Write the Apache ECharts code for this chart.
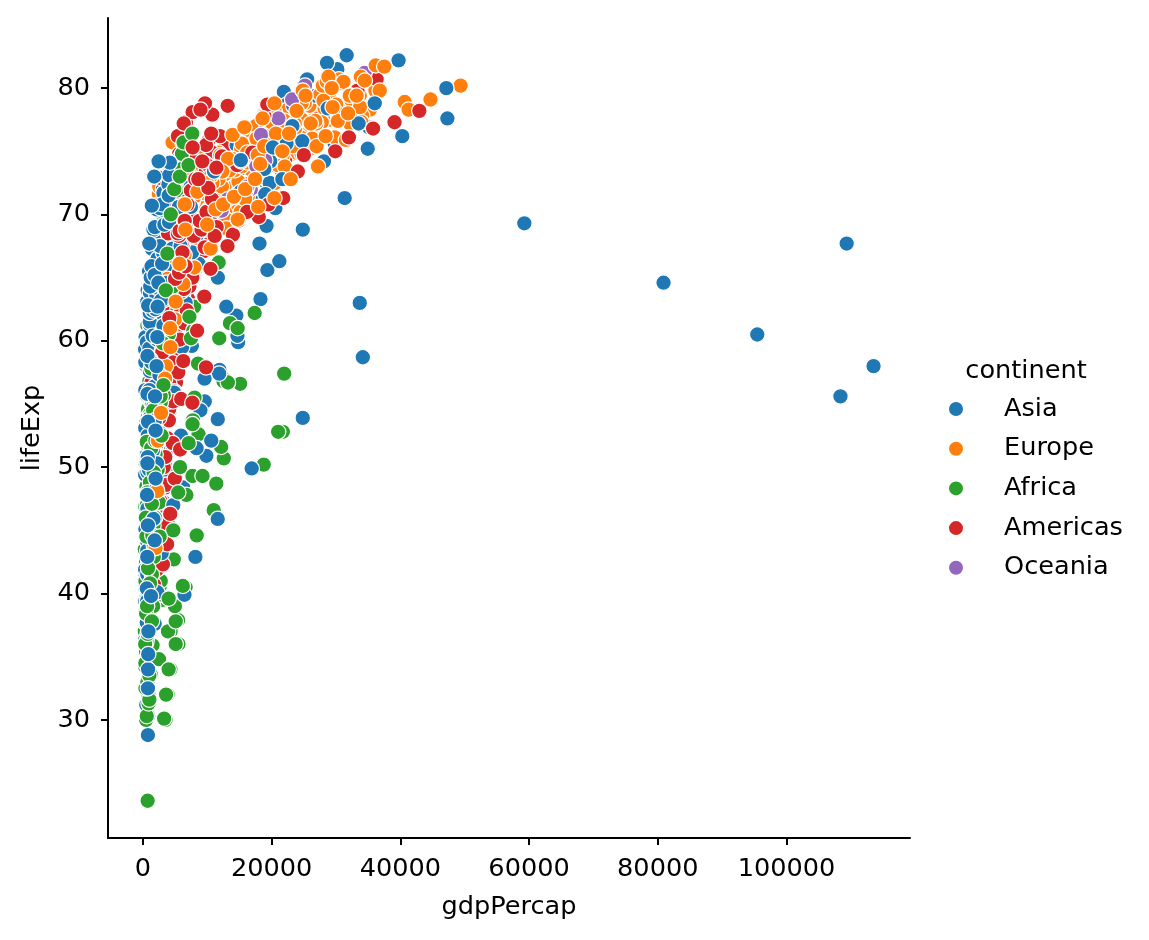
<!DOCTYPE html>
<html>
<head>
<meta charset="utf-8">
<title>gdpPercap vs lifeExp</title>
<script src="https://cdn.jsdelivr.net/npm/echarts@6/dist/echarts.min.js"></script>
<style>
  html, body { margin: 0; padding: 0; background: #fff; }
  #chart { width: 1149px; height: 940px; }
</style>
</head>
<body>
<div id="chart"></div>
<script>
// 数据: [gdpPercap, lifeExp], 从图上估读, 每 12 个点一组(一个国家)
const continents = ['Asia', 'Europe', 'Africa', 'Americas', 'Oceania'];
const colors = ['#1f77b4', '#ff7f0e', '#2ca02c', '#d62728', '#9467bd'];

const xTicks = [0, 20000, 40000, 60000, 80000, 100000];
const xTickLabels = ['0', '20000', '40000', '60000', '80000', '100000'];
const yTicks = [30, 40, 50, 60, 70, 80];
const yTickLabels = ['30', '40', '50', '60', '70', '80'];

const asia = [
  [779,28.8],[821,30.3],[853,32.0],[836,34.0],[740,36.1],[786,38.4],[978,39.9],[852,40.8],[649,41.7],[635,41.8],[727,42.1],[975,43.8],
  [9867,50.9],[11636,53.8],[12753,56.9],[14805,59.9],[18269,63.3],[19340,65.6],[19211,69.1],[18525,70.8],[19036,72.6],[20292,73.9],[23404,74.8],[29796,75.6],
  [684,37.5],[662,39.3],[686,41.2],[721,43.5],[630,45.3],[660,46.9],[677,50.0],[752,52.8],[838,56.0],[973,59.4],[1136,62.0],[1391,64.1],
  [368,39.4],[434,41.4],[497,43.4],[523,45.4],[422,40.3],[525,31.2],[624,51.0],[684,53.9],[682,55.8],[734,56.5],[896,56.8],[1714,59.7],
  [400,44.0],[576,50.5],[488,44.5],[613,58.4],[677,63.1],[741,64.0],[962,65.5],[1379,67.3],[1656,68.7],[2289,70.4],[3119,72.0],[4959,73.0],
  [3054,61.0],[3629,64.8],[4693,67.7],[6198,70.0],[8316,72.0],[11186,73.6],[14561,75.5],[20038,76.2],[24758,77.6],[28378,80.0],[30209,81.5],[39725,82.2],
  [547,37.4],[590,40.2],[658,43.6],[701,47.2],[725,50.7],[813,54.2],[856,56.6],[977,58.6],[1164,60.2],[1459,61.8],[1747,62.9],[2452,64.7],
  [750,37.5],[859,39.9],[849,42.5],[762,46.0],[1111,49.2],[1383,52.7],[1517,56.2],[1748,60.1],[2383,62.7],[3119,66.0],[2874,68.6],[3541,70.7],
  [3035,44.9],[3290,47.2],[4187,49.3],[5907,52.5],[9614,55.2],[11889,57.7],[7608,59.6],[6642,63.0],[7236,65.7],[8264,68.0],[9241,69.5],[11606,71.0],
  [4130,45.3],[6229,48.4],[8342,51.5],[8931,54.5],[9576,57.0],[14688,60.4],[14517,62.0],[11644,65.0],[3746,59.5],[3076,58.8],[4391,57.0],[4471,59.5],
  [4087,65.4],[5386,67.8],[7106,69.4],[8394,70.8],[12787,71.6],[13307,73.1],[15367,74.5],[17122,75.6],[18051,76.9],[20897,78.3],[21906,79.7],[25523,80.7],
  [3217,63.0],[4318,65.5],[6577,68.7],[9848,71.4],[14779,73.4],[16610,75.4],[19384,77.1],[22376,78.7],[26825,79.4],[28817,80.7],[28605,82.0],[31656,82.6],
  [1547,43.2],[1886,45.7],[2348,48.1],[2742,51.6],[2110,56.5],[2852,61.1],[4161,63.7],[4449,65.9],[3431,68.0],[3645,69.8],[3845,71.3],[4519,72.5],
  [1031,47.5],[1488,52.7],[1537,55.3],[2029,57.7],[3031,62.6],[4657,64.8],[5623,67.1],[8533,69.8],[12104,72.2],[15994,74.6],[19234,77.0],[23348,78.6],
  [108382,55.6],[113523,58.0],[95458,60.5],[80895,64.6],[109348,67.7],[59265,69.3],[31354,71.3],[28118,74.2],[34933,75.2],[40301,76.2],[35110,76.9],[47307,77.6],
  [4834,55.9],[6090,59.5],[5715,62.1],[6006,63.9],[7486,65.4],[8659,66.1],[7641,67.0],[5377,67.9],[6891,69.3],[8755,70.3],[9313,71.0],[10461,72.0],
  [1831,48.5],[1810,52.1],[2036,55.7],[2278,59.4],[2849,63.0],[3828,65.3],[4920,68.0],[5249,69.5],[7278,70.7],[10132,71.9],[10207,73.0],[12452,74.2],
  [787,42.2],[912,45.2],[1056,48.3],[1226,51.3],[1421,53.8],[1648,55.5],[1842,57.5],[2155,60.2],[1784,61.3],[1902,63.6],[2140,65.0],[3096,66.8],
  [331,36.3],[350,41.9],[388,45.1],[349,49.4],[357,53.1],[371,56.1],[424,58.1],[385,58.3],[347,59.3],[415,60.3],[611,59.9],[944,62.1],
  [546,36.2],[598,37.7],[652,39.4],[677,41.5],[674,44.1],[695,46.7],[718,49.6],[776,52.5],[897,55.7],[1011,59.4],[1057,61.3],[1091,63.8],
  [1828,37.6],[2243,40.1],[2924,43.2],[4721,47.0],[10618,52.1],[11848,57.4],[12955,62.7],[18115,67.7],[18617,71.2],[19702,72.5],[19775,74.2],[22316,75.6],
  [685,43.4],[747,45.6],[803,47.7],[942,49.8],[1050,51.9],[1176,54.0],[1443,56.2],[1705,58.2],[1972,60.8],[2049,61.8],[2093,63.6],[2606,65.5],
  [1273,47.8],[1548,51.3],[1650,54.8],[1814,56.4],[1989,58.1],[2189,60.1],[2456,62.1],[2190,64.2],[2280,66.5],[2537,68.6],[2651,70.3],[3190,71.7],
  [6460,39.9],[8157,42.9],[11627,45.9],[16904,49.9],[24837,53.9],[34168,58.7],[33693,63.0],[21199,66.3],[24842,68.8],[20586,70.5],[19015,71.6],[21655,72.8],
  [2315,60.4],[2843,63.2],[3675,65.8],[4977,67.9],[8597,69.5],[11210,70.8],[15169,71.8],[18862,73.6],[24769,75.8],[33519,77.2],[36023,78.8],[47143,80.0],
  [1084,57.6],[1073,61.5],[1074,62.2],[1136,64.3],[1213,65.0],[1349,65.9],[1648,68.8],[1877,69.0],[2154,70.4],[2665,70.5],[3015,70.8],[3970,72.4],
  [1643,45.9],[2117,48.3],[2193,50.3],[1882,53.7],[2571,57.3],[3195,61.2],[3761,64.6],[3116,67.0],[3341,69.2],[4014,71.5],[4090,73.1],[4185,74.1],
  [1207,58.5],[1508,62.4],[1823,65.2],[2644,67.5],[4063,69.4],[5597,70.6],[7426,72.2],[11054,73.4],[15216,74.3],[20207,75.3],[23235,77.0],[28718,78.4],
  [757,50.8],[793,53.6],[1002,56.1],[1296,58.3],[1524,60.4],[1962,62.5],[2393,64.6],[2982,66.1],[4617,67.3],[5853,67.5],[5913,68.6],[7458,70.6],
  [605,40.4],[676,42.9],[772,45.4],[637,47.8],[700,50.3],[714,55.8],[707,58.8],[821,62.8],[989,67.7],[1386,70.7],[1764,73.0],[2442,74.2],
  [782,32.5],[804,34.0],[826,35.2],[862,37.0],[1265,39.8],[1830,44.2],[1977,49.1],[1972,52.9],[1879,55.6],[2117,58.0],[2235,60.3],[2281,62.7]
];

const europe = [
  [1601,55.2],[1942,59.3],[2313,64.8],[2760,66.2],[3313,67.7],[3533,68.9],[3631,70.4],[3739,72.0],[2497,71.6],[3193,73.0],[4604,75.7],[5937,76.4],
  [6137,66.8],[8843,67.5],[10751,69.5],[12835,70.1],[16662,70.6],[19749,72.2],[21597,73.2],[23688,74.9],[27042,76.0],[29096,77.5],[32418,79.0],[36126,79.8],
  [8343,68.0],[9715,69.2],[10991,70.3],[13149,70.9],[16672,71.4],[19118,72.8],[20979,73.9],[22526,75.4],[25576,76.5],[27561,77.5],[30486,78.3],[33693,79.4],
  [974,53.8],[1354,58.5],[1710,61.9],[2172,64.8],[2860,67.5],[3528,69.9],[4127,70.7],[4314,71.1],[2547,72.2],[4766,73.2],[6019,74.3],[7446,74.9],
  [2444,59.6],[3009,66.6],[4255,69.5],[5578,70.4],[6597,70.9],[7612,70.8],[8224,71.1],[8240,71.3],[6303,71.2],[5970,70.3],[7697,72.1],[10681,73.0],
  [6876,66.9],[8256,69.0],[10137,69.9],[11399,70.4],[13108,70.3],[14800,70.7],[15377,71.0],[16310,71.6],[14297,72.4],[16049,74.0],[17596,75.5],[22833,76.5],
  [9692,70.8],[11100,71.8],[13583,72.4],[15937,73.0],[18866,73.5],[20423,74.7],[21688,74.6],[25116,74.8],[26407,75.3],[29804,76.1],[32167,77.2],[35278,78.3],
  [6425,66.6],[7545,67.5],[9372,68.8],[10921,69.8],[14359,70.9],[15605,72.5],[18533,74.6],[21141,74.8],[20647,75.7],[23724,77.1],[28204,78.4],[33207,79.3],
  [7030,67.4],[8663,68.9],[10560,70.5],[12999,71.6],[16107,72.4],[18293,73.8],[20294,74.9],[22066,76.3],[24704,77.5],[25890,78.6],[28926,79.6],[30470,80.7],
  [7144,67.5],[10188,69.1],[12902,70.3],[14745,70.8],[18016,71.0],[20513,72.5],[22032,73.8],[24639,74.8],[26505,76.1],[27789,77.3],[30036,78.7],[32170,79.4],
  [3531,65.9],[4916,67.9],[6017,69.5],[8513,71.0],[12725,72.3],[14196,73.7],[15268,75.2],[16121,76.7],[17541,77.0],[18748,77.9],[22514,78.3],[27538,79.5],
  [5264,64.0],[6040,66.4],[7550,68.0],[9326,69.5],[10168,69.8],[11674,70.0],[12546,69.4],[12986,69.6],[10536,69.2],[11712,71.0],[14843,72.6],[18009,73.3],
  [7268,72.5],[9245,73.5],[10350,73.7],[13320,73.7],[15798,74.5],[19655,76.1],[23270,76.9],[26923,77.2],[25144,78.8],[28061,79.0],[31163,80.5],[36181,81.8],
  [5211,66.9],[5599,68.9],[6632,70.3],[7656,71.1],[9531,71.3],[11151,72.0],[12618,73.1],[13873,74.4],[17559,75.5],[24522,76.1],[34077,77.8],[40676,78.9],
  [4931,65.9],[6249,67.8],[8243,69.2],[10022,71.1],[12269,72.2],[14256,73.5],[16537,75.0],[19207,76.4],[22014,77.4],[24675,78.8],[27968,80.2],[28570,80.5],
  [2648,59.2],[3682,61.4],[4650,63.7],[5907,67.2],[7779,70.6],[9595,73.1],[11223,74.1],[11733,74.9],[7003,75.4],[6465,75.4],[6558,74.0],[9254,74.5],
  [8942,72.1],[11276,73.0],[12791,73.2],[15363,73.8],[18795,73.8],[21209,75.2],[21400,76.1],[23651,76.8],[26791,77.4],[30246,78.0],[33725,78.5],[36798,79.8],
  [10095,72.7],[11654,73.4],[13450,73.5],[16362,74.1],[18965,74.3],[23311,75.4],[26298,76.0],[31541,75.9],[33966,77.3],[41283,78.3],[44684,79.1],[49357,80.2],
  [4029,61.3],[4734,65.8],[5339,67.6],[6471,69.6],[8006,70.9],[9508,70.7],[8451,71.3],[9082,71.0],[7739,71.0],[10160,72.8],[12002,74.7],[15390,75.6],
  [3068,59.8],[3775,61.5],[4728,64.4],[6361,66.6],[9022,69.3],[10172,70.4],[11753,72.8],[13039,74.1],[16207,74.9],[17641,76.0],[19971,77.3],[20510,78.1],
  [3145,61.1],[3944,64.1],[5000,66.8],[6470,66.8],[8011,69.2],[9356,69.5],[9605,69.7],[9697,69.5],[6598,69.4],[7346,69.7],[7886,71.3],[10808,72.5],
  [3581,58.0],[4981,61.7],[6290,64.5],[7991,65.8],[10523,67.3],[12980,68.9],[15181,70.2],[15871,71.2],[9325,71.7],[7915,72.2],[7236,73.2],[9787,74.0],
  [3835,64.9],[4565,66.7],[5694,69.7],[7994,71.4],[10639,73.1],[13237,74.4],[13926,76.3],[15765,76.9],[18603,77.6],[20445,78.8],[24835,79.8],[28821,80.9],
  [8528,71.9],[9912,72.5],[12329,73.4],[15258,74.2],[17832,74.7],[18855,75.4],[20667,76.4],[23586,77.2],[23880,78.2],[25267,79.4],[29342,80.0],[33860,80.9],
  [14734,69.6],[17909,70.6],[20431,71.3],[22966,72.8],[27196,73.8],[26982,75.4],[28398,76.2],[30282,77.4],[31872,78.0],[32136,79.4],[34481,80.6],[37506,81.7],
  [1969,43.6],[2219,48.1],[2323,52.1],[2826,54.3],[3450,57.0],[4270,59.5],[4241,61.0],[5089,63.1],[5679,66.1],[6601,68.8],[6508,70.8],[8458,71.8],
  [9980,69.2],[11283,70.4],[12477,70.8],[14143,71.4],[15895,72.0],[17429,72.8],[18232,74.0],[21665,75.0],[22705,76.4],[26074,77.2],[29479,78.5],[33203,79.4]
];

const africa = [
  [2449,43.1],[3014,45.7],[2551,48.3],[3247,51.4],[4183,54.5],[4910,58.0],[5745,61.4],[5681,65.8],[5023,67.7],[4797,69.2],[5288,71.0],[6223,72.3],
  [3521,30.0],[3828,32.0],[4269,34.0],[5523,36.0],[5473,37.9],[3009,39.5],[2757,39.9],[2430,39.9],[2628,40.6],[2277,41.0],[2773,41.0],[4797,42.7],
  [737,23.6],[500,30.0],[600,30.3],[880,31.3],[1000,31.6],[400,32.5],[700,33.0],[1200,33.6],[350,34.2],[900,34.8],[500,35.4],[1500,35.9],
  [851,47.6],[918,49.6],[984,51.5],[1215,53.3],[2264,56.0],[3215,59.3],[4551,61.5],[6206,63.6],[7954,62.7],[8647,52.6],[11004,46.6],[12570,50.7],
  [650,36.5],[300,37.0],[1100,37.6],[800,38.1],[450,38.7],[1300,39.2],[600,39.8],[1000,40.3],[300,40.9],[750,41.4],[1800,41.9],[500,42.5],
  [1200,43.0],[900,43.6],[400,44.1],[1500,44.7],[650,45.2],[2100,45.8],[1000,46.3],[350,46.9],[800,47.4],[1300,48.0],[550,48.5],[1700,49.1],
  [1419,41.9],[1459,44.4],[1693,47.0],[1815,49.3],[2024,51.1],[2785,53.3],[3504,56.0],[3885,59.8],[3795,63.7],[4173,67.2],[4755,69.8],[5581,71.3],
  [376,34.5],[426,36.0],[582,37.5],[915,39.0],[673,40.5],[958,42.0],[927,43.7],[966,45.7],[1132,47.5],[2815,48.2],[7703,49.3],[12154,51.6],
  [4293,37.0],[4977,39.0],[6631,40.5],[8358,44.6],[11401,48.7],[21746,52.8],[15113,56.6],[11864,60.2],[13522,61.4],[14723,61.0],[12522,56.8],[13206,56.7],
  [900,49.6],[450,50.2],[1200,50.7],[2400,51.3],[700,51.8],[1500,52.4],[1000,52.9],[500,53.5],[1900,54.0],[800,54.6],[1300,55.1],[600,55.7],
  [2200,56.2],[1000,56.8],[1600,57.3],[700,57.9],[2600,58.4],[1200,59.0],[900,59.5],[2000,60.1],[1400,60.6],[700,61.2],[2800,61.7],[1100,62.3],
  [21951,57.4],[2388,42.7],[3448,45.3],[6757,47.8],[18773,50.2],[21011,52.8],[17364,62.2],[11770,66.2],[9640,68.8],[9467,70.2],[9535,72.7],[12057,74.0],
  [500,44.0],[600,47.0],[700,50.0],[800,53.0],[400,41.0],[300,43.5],[1200,35.0],[900,37.2],[1600,39.0],[2000,42.8],[2500,47.2],[1100,54.2],
  [1968,51.0],[2034,58.1],[2529,60.2],[2475,61.6],[2575,62.9],[3710,64.9],[3688,66.7],[4784,67.2],[6058,69.7],[7425,70.7],[9021,72.0],[10957,72.8],
  [1688,42.9],[1643,45.4],[1566,47.9],[1711,50.3],[1930,52.9],[3258,55.7],[3630,59.7],[3739,62.7],[2948,65.4],[2982,67.7],[3258,69.6],[3820,71.2],
  [1400,58.1],[500,38.4],[600,52.0],[900,45.5],[1700,43.8],[2300,49.8],[1900,46.0],[1400,41.5],[1100,48.8],[800,42.0],[650,39.0],[450,46.0],
  [2719,52.7],[2770,55.1],[3173,57.7],[4022,60.5],[4657,64.3],[4320,67.1],[5268,69.9],[5303,71.9],[6101,73.6],[6071,74.8],[6316,75.7],[7670,76.4],
  [350,36.0],[1300,51.5],[2000,55.2],[1600,54.5],[1300,57.8],[900,56.0],[700,48.0],[550,44.5],[1000,33.5],[750,36.8],[1400,37.8],[1100,40.8],
  [4725,45.0],[5487,48.0],[5769,50.0],[7114,51.9],[7766,53.7],[8028,55.5],[8569,58.2],[7826,60.8],[7225,61.9],[7479,60.2],[7711,53.4],[9270,49.3],
  [1469,44.6],[1395,47.1],[1660,49.6],[1932,52.1],[2754,55.6],[3120,59.8],[3561,64.0],[3811,66.9],[4333,70.0],[4877,72.0],[5723,73.0],[7093,73.9],
  [2600,44.5],[2900,52.5],[3200,56.5],[3900,37.0],[5100,36.0],[2500,34.8],[4000,34.0],[3600,32.0],[3300,30.1],[4000,39.6],[5100,37.8],[6200,40.6]
];

const americas = [
  [5911,62.5],[6857,64.4],[7133,65.1],[8053,65.6],[9443,67.1],[10079,68.5],[8998,69.9],[9140,70.8],[9308,71.9],[10967,73.3],[8798,74.3],[12779,75.3],
  [2677,40.4],[2128,41.9],[2181,43.4],[2587,45.0],[2980,46.7],[3548,50.0],[3157,53.9],[2754,57.3],[2962,60.0],[3326,62.1],[3413,63.9],[3822,65.6],
  [2109,50.9],[2487,53.3],[3337,55.7],[3430,57.6],[4986,59.5],[6660,61.5],[7031,63.3],[7807,65.2],[6950,67.1],[7958,69.4],[8131,71.0],[9066,72.4],
  [11367,68.8],[12490,70.0],[13462,71.3],[16077,72.1],[18971,72.9],[22091,74.2],[22899,75.8],[26627,76.9],[26343,78.0],[28955,78.6],[33329,79.8],[36319,80.7],
  [3940,54.7],[4316,56.1],[4519,57.9],[5107,60.5],[5494,63.4],[4757,67.1],[5096,70.6],[5547,72.5],[7596,74.1],[10118,75.8],[10779,77.9],[13172,78.6],
  [2144,50.6],[2324,55.1],[2492,57.9],[2679,60.0],[3265,61.6],[3816,63.8],[4398,66.7],[4903,67.8],[5445,68.4],[6117,70.3],[5755,71.7],[7007,72.9],
  [2627,57.2],[2990,60.0],[3461,62.8],[4162,65.4],[5118,67.8],[5927,70.8],[5262,73.4],[5630,74.8],[6161,75.7],[6677,77.3],[7723,78.1],[9645,78.8],
  [5587,59.4],[6092,62.3],[5181,65.2],[5690,68.3],[5305,70.7],[6380,72.6],[7317,73.7],[7533,74.2],[5593,74.4],[5432,76.2],[6341,77.2],[8948,78.3],
  [1398,45.9],[1544,49.8],[1662,53.5],[1654,56.8],[2190,59.6],[2681,61.8],[3065,63.7],[3146,66.0],[3590,68.5],[3991,70.0],[4564,70.8],[6025,72.2],
  [3522,48.4],[3780,51.4],[4086,54.6],[4580,56.7],[5280,58.8],[6679,61.3],[7213,64.3],[6482,67.2],[7104,69.6],[7430,72.3],[5773,74.2],[6873,75.0],
  [3048,45.3],[3422,48.6],[3777,52.3],[4359,55.9],[4520,58.2],[5138,56.7],[4099,56.6],[4141,63.2],[4444,66.8],[5155,69.5],[5352,70.7],[5728,71.9],
  [2428,42.0],[2617,44.1],[2750,47.3],[3243,50.0],[4031,53.7],[4879,56.0],[4820,58.1],[4246,60.8],[4439,63.4],[4684,66.3],[4858,69.0],[5186,70.3],
  [1840,37.6],[1726,40.7],[1797,43.6],[1452,46.2],[1654,48.0],[1874,49.9],[2011,51.5],[1823,53.6],[1456,55.1],[1342,56.7],[1270,58.1],[1202,60.9],
  [2195,41.9],[2220,44.7],[2292,48.0],[2538,50.9],[2529,53.9],[3204,57.4],[3121,60.9],[3023,64.5],[3082,66.4],[3160,67.7],[3099,68.6],[3548,70.2],
  [2899,58.5],[4756,62.6],[5246,65.6],[6125,67.5],[7434,69.0],[6650,70.1],[6068,71.2],[6351,71.8],[7404,71.8],[7122,72.3],[6995,72.0],[7321,72.6],
  [3478,50.8],[4132,55.2],[4582,58.3],[5755,60.1],[6809,62.4],[7675,65.0],[9611,67.4],[8688,69.5],[9472,71.5],[9767,73.7],[10742,74.9],[11978,76.2],
  [3112,42.3],[3458,45.4],[3634,48.6],[4643,51.9],[4689,55.2],[5486,57.5],[3470,59.3],[2955,62.0],[2171,65.8],[2253,68.4],[2474,70.8],[2749,72.9],
  [2480,55.2],[2961,59.2],[3536,61.8],[4421,64.1],[5364,66.2],[5351,68.7],[7010,70.5],[7034,72.4],[6619,73.9],[7114,74.5],[7357,74.7],[9809,75.5],
  [3019,62.6],[3196,63.2],[3068,64.4],[3287,65.0],[3908,65.8],[4593,66.4],[5403,66.9],[4864,67.4],[4786,68.2],[4928,69.4],[3784,70.8],[4173,71.8],
  [3759,43.9],[4245,46.3],[4957,49.1],[5788,51.4],[5938,55.4],[6281,58.4],[6435,61.4],[6361,64.1],[4446,66.5],[5838,68.4],[5909,69.9],[7409,71.4],
  [3082,64.3],[3908,68.5],[5109,69.6],[6929,71.1],[9123,72.2],[9771,73.4],[10331,73.8],[12281,74.6],[14642,73.9],[16999,74.9],[18856,77.8],[19329,78.7],
  [3023,59.1],[4100,61.8],[4997,64.9],[5621,65.4],[6619,65.9],[7899,68.3],[9119,68.8],[7388,69.6],[7370,69.9],[8793,69.5],[11461,69.0],[18009,69.8],
  [13990,68.4],[14847,69.5],[16173,70.2],[19530,70.8],[21806,71.3],[24073,73.4],[25010,74.7],[29884,75.0],[32004,76.1],[35767,76.8],[39097,77.3],[42952,78.2],
  [5717,66.1],[6151,67.0],[5603,68.3],[5445,68.5],[5703,68.7],[6504,69.5],[6920,70.8],[7452,71.9],[8138,72.8],[9231,74.2],[7727,75.3],[10611,76.4],
  [7690,55.1],[9803,57.9],[8423,60.8],[9541,63.5],[10505,65.7],[13144,67.5],[11152,68.3],[9883,70.2],[10733,71.2],[10165,72.1],[8605,72.8],[11416,73.7]
];

const oceania = [
  [10040,69.1],[10950,70.3],[12217,70.9],[14526,71.1],[16789,71.9],[18334,73.5],[19477,74.7],[21889,76.3],[23425,77.6],[26998,78.8],[30688,80.4],[34435,81.2],
  [10557,69.4],[12247,70.3],[13176,71.2],[14464,71.5],[16046,71.9],[16234,72.2],[17632,73.8],[19007,74.3],[18363,76.3],[21050,77.6],[23190,79.1],[25185,80.2]
];

const dataMap = { Asia: asia, Europe: europe, Africa: africa, Americas: americas, Oceania: oceania };

const font = 'DejaVu Sans';
const fs = 25.6;

// 每组 12 个点, 各大洲的组按比例交错绘制, 让颜色互相叠压
let pieces = [];
continents.forEach(function (name, ci) {
  let arr = dataMap[name];
  let n = Math.ceil(arr.length / 12);
  for (let i = 0; i < n; i++) {
    pieces.push({ name: name, color: colors[ci], data: arr.slice(i * 12, i * 12 + 12), t: (i + 0.5) / n });
  }
});
pieces.sort(function (a, b) { return a.t - b.t; });

let myEchart = echarts.init(document.getElementById('chart'));

let series = pieces.map(function (p) {
  return {
    name: p.name,
    type: 'scatter',
    data: p.data,
    symbol: 'circle',
    symbolSize: 15.5,
    itemStyle: {
      color: p.color,
      borderColor: '#ffffff',
      borderWidth: 1.2,
      opacity: 1
    },
    emphasis: { disabled: true }
  };
});

let option = {
  animation: false,
  backgroundColor: '#ffffff',
  grid: { left: 108, right: 239, top: 18, bottom: 102, outerBoundsMode: 'none' },
  xAxis: {
    type: 'value',
    min: -5423,
    max: 119187,
    name: 'gdpPercap',
    nameLocation: 'middle',
    nameGap: 56,
    nameTextStyle: { fontSize: fs, color: '#000', fontFamily: font },
    axisLine: { show: true, onZero: false, lineStyle: { color: '#000', width: 2 } },
    axisTick: { show: true, length: 7, customValues: xTicks, lineStyle: { color: '#000', width: 2 } },
    axisLabel: {
      customValues: xTicks,
      margin: 18,
      fontSize: fs,
      color: '#000',
      fontFamily: font,
      formatter: function (v) { return xTickLabels[xTicks.indexOf(v)]; }
    },
    splitLine: { show: false }
  },
  yAxis: {
    type: 'value',
    min: 20.65,
    max: 85.55,
    name: 'lifeExp',
    nameLocation: 'middle',
    nameGap: 63,
    nameTextStyle: { fontSize: fs, color: '#000', fontFamily: font },
    axisLine: { show: true, onZero: false, lineStyle: { color: '#000', width: 2 } },
    axisTick: { show: true, length: 7, customValues: yTicks, lineStyle: { color: '#000', width: 2 } },
    axisLabel: {
      customValues: yTicks,
      margin: 18,
      fontSize: fs,
      color: '#000',
      fontFamily: font,
      formatter: function (v) { return yTickLabels[yTicks.indexOf(v)]; }
    },
    splitLine: { show: false }
  },
  legend: {
    orient: 'vertical',
    left: 947,
    top: 396,
    padding: 0,
    itemWidth: 16,
    itemHeight: 16,
    itemGap: 13.7,
    selectedMode: false,
    data: continents,
    textStyle: { fontSize: fs, color: '#000', fontFamily: font, padding: [0, 0, 0, 35] }
  },
  graphic: [
    {
      type: 'text',
      x: 1026,
      y: 371,
      style: {
        text: 'continent',
        align: 'center',
        verticalAlign: 'middle',
        fontSize: fs,
        fontFamily: font,
        fill: '#000'
      }
    }
  ],
  series: series
};
myEchart.setOption(option);
</script>
</body>
</html>
